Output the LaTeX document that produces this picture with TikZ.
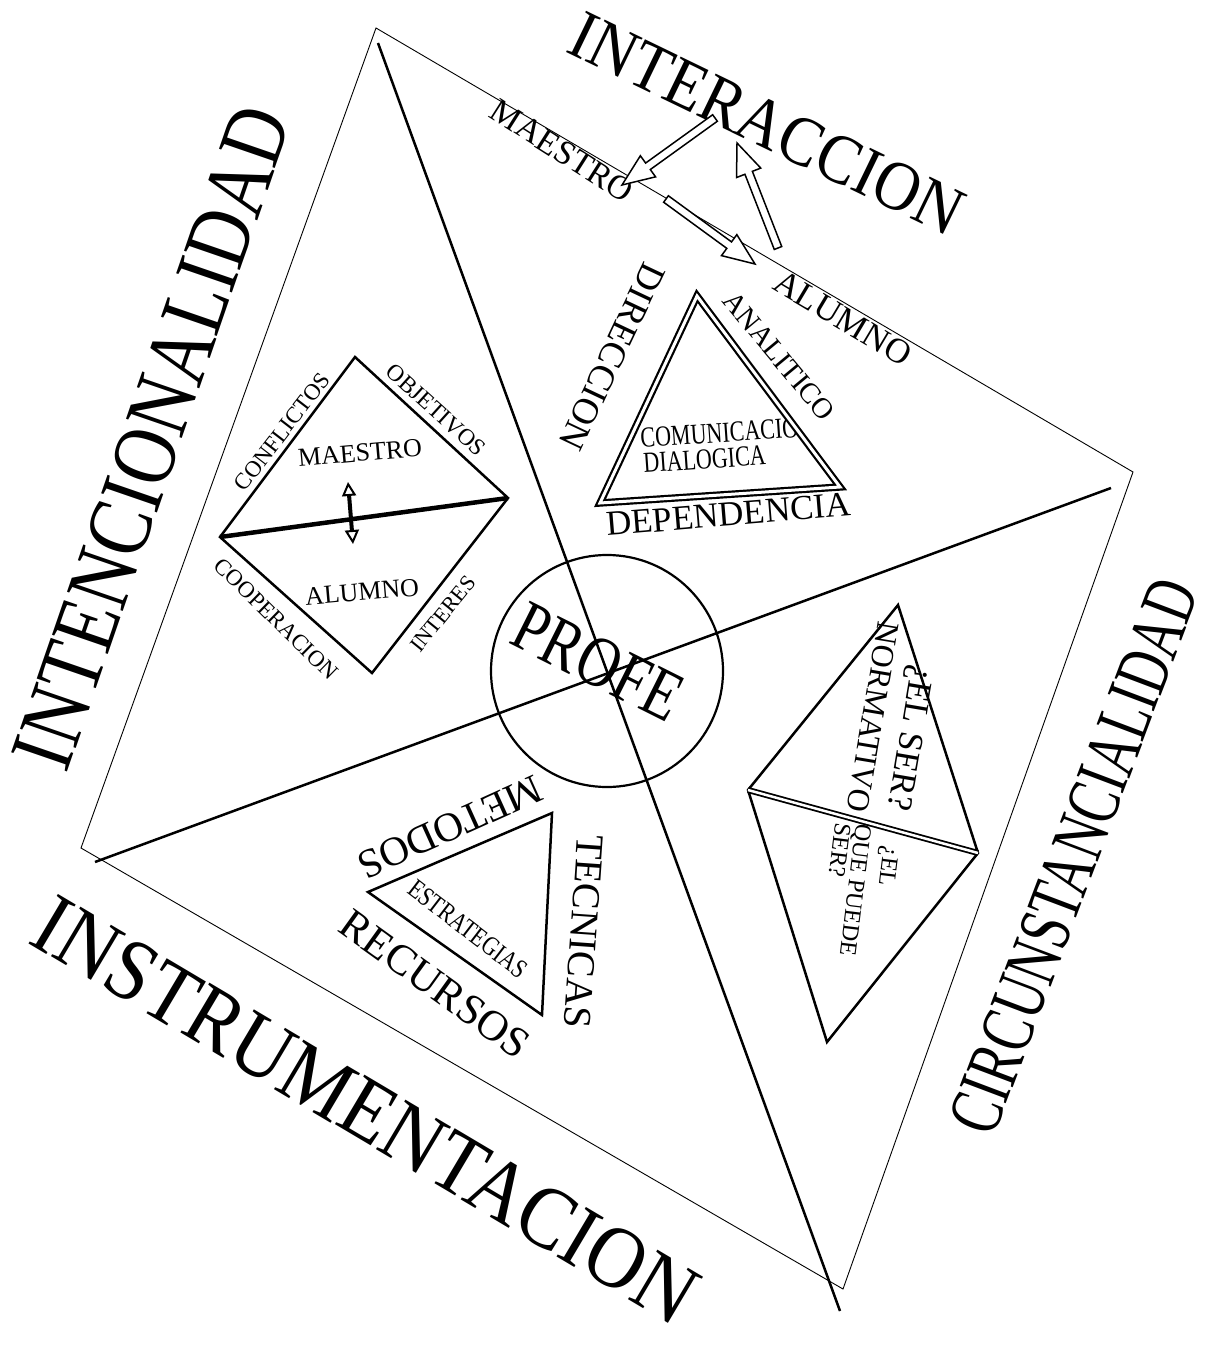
\documentclass[tikz,border=0pt]{standalone}
\usepackage{fontspec}
\setmainfont{Liberation Serif}
\usetikzlibrary{arrows.meta,calc}
\tikzset{
  thinedge/.style={line width=0.9pt, line join=miter},
  diag/.style={line width=2.5pt},
  shp/.style={line width=2.5pt, line join=miter},
  dbl/.style={double, double distance=3pt, line width=2.2pt, line join=miter},
  dblthin/.style={double, double distance=2.5pt, line width=1.8pt},
  lbl/.style={inner sep=0pt, font=\fontsize{#1}{#1}\selectfont},
  blk/.style={draw, line width=1.5pt, fill=white, line join=miter},
}
\newcommand\blockarrow[2]{%
  \coordinate (#1h) at ($(#2)!32pt!(#1)$);
  \draw[blk] ($(#1)!4pt!90:(#2)$) -- ($(#1h)!4pt!90:(#2)$) -- ($(#1h)!13pt!90:(#2)$) -- (#2)
   -- ($(#1h)!13pt!-90:(#2)$) -- ($(#1h)!4pt!-90:(#2)$) -- ($(#1)!4pt!-90:(#2)$) -- cycle;}
\begin{document}
\begin{tikzpicture}[x=1pt,y=-1pt]
\fill[white] (0,0) rectangle (1214,1351);
\useasboundingbox (0,0) rectangle (1214,1351);
% outer frame
\coordinate (T) at (376,28); \coordinate (R) at (1133,472);
\coordinate (B) at (843,1289); \coordinate (L) at (81,848);
\draw[thinedge] (T) -- (R) -- (B) -- (L) -- cycle;
\coordinate (d1a) at (378,43); \coordinate (d1b) at (840,1311);
\coordinate (d2a) at (95,862); \coordinate (d2b) at (1111,488);
\draw[diag] (d1a) -- (d1b);
\draw[diag] (d2a) -- (d2b);
% centre
\node[draw, circle, line width=2.2pt, minimum size=232pt, inner sep=0pt] (profecircle) at (607,671) {};
\node[lbl=72, rotate=-26.6] (profe) at (598,662) {\scalebox{0.8}[1]{PROFE}};
% big labels
\node[lbl=70, rotate=-25.8] (interaccion) at (767,124) {\scalebox{0.9}[1]{INTERACCION}};
\node[lbl=90, rotate=71] (intencion) at (152,437) {\scalebox{0.83}[1]{INTENCIONALIDAD}};
\node[lbl=88, rotate=-30.7] (instrum) at (366,1110) {\scalebox{0.9}[1]{INSTRUMENTACION}};
\node[lbl=75, rotate=69.3] (circun) at (1074,856) {\scalebox{0.7}[1]{CIRCUNSTANCIALIDAD}};
% interaction
\node[lbl=34, rotate=-32.5] (maestroTop) at (562,151) {MAESTRO};
\node[lbl=35, rotate=-30.8] (alumnoTop) at (843,318) {ALUMNO};
\coordinate (a1s) at (715,118); \coordinate (a1e) at (622,185);
\coordinate (a2s) at (666,199); \coordinate (a2e) at (755,264);
\coordinate (a3s) at (778,248); \coordinate (a3e) at (737,143);
\blockarrow{a1s}{a1e}
\blockarrow{a2s}{a2e}
\blockarrow{a3s}{a3e}
% upper right triangle
\node[lbl=37, rotate=-115.3] (direccion) at (612,357) {DIRECCION};
\node[lbl=29, rotate=-50.3] (analitico) at (779,356) {ANALITICO};
\node[lbl=35, rotate=4.7, anchor=base west] (dependencia) at (607,536) {DEPENDENCIA};
\begin{scope}
\clip (697,296) -- (600,503) -- (840,487) -- cycle;
\node[lbl=29, rotate=4, anchor=base west] (comun) at (641,448) {\scalebox{0.76}[1]{COMUNICACION}};
\node[lbl=29, rotate=4, anchor=base west] (dialog) at (644,473) {\scalebox{0.76}[1]{DIALOGICA}};
\end{scope}
\draw[dbl] (697,296) -- (600,503) -- (840,487) -- cycle;
% left diamond
\draw[shp] (355,357) -- (508,498) -- (372,673) -- (220,537) -- cycle;
\draw[line width=4.5pt] (220,537) -- (508,498);
\draw[line width=4pt, {Triangle[open, length=14pt, width=14pt, line width=2pt]}-{Triangle[open, length=14pt, width=14pt, line width=2pt]}] (353,544) -- (348,482);
\node[lbl=26, rotate=5] (dmaestro) at (360,453) {MAESTRO};
\node[lbl=26, rotate=5] (dalumno) at (362,592) {ALUMNO};
\node[lbl=23, rotate=52.4] (conflictos) at (282,432) {CONFLICTOS};
\node[lbl=23.5, rotate=-42.1] (objetivos) at (436,410) {OBJETIVOS};
\node[lbl=23, rotate=-44.4] (cooperacion) at (276,619) {COOPERACION};
\node[lbl=22, rotate=51] (interes) at (443,614) {INTERES};
% bottom triangle
\draw[shp] (552,813) -- (368,892) -- (542,1015) -- cycle;
\node[lbl=41, rotate=-155.7] (metodos) at (450,827) {METODOS};
\node[lbl=27, rotate=-37.5] (estrategias) at (468,929) {\scalebox{0.8}[1]{ESTRATEGIAS}};
\node[lbl=43, rotate=-35.7] (recursos) at (435,984) {RECURSOS};
\node[lbl=39.5, rotate=-94] (tecnicas) at (584,932) {TECNICAS};
% right diamond
\draw[shp] (898,605) -- (978,853) -- (827,1042) -- (748,790) -- cycle;
\draw[dblthin] (748,790) -- (978,853);
\node[lbl=35, rotate=-99.7] (elser) at (908,738) {¿EL SER?};
\node[lbl=32, rotate=-99.5] (normativo) at (873,717) {NORMATIVO};
\node[lbl=24, rotate=-97, anchor=west] (el2) at (889,846) {¿EL};
\node[lbl=24, rotate=-97, anchor=west] (quepuede) at (862,824) {QUE PUEDE};
\node[lbl=24, rotate=-97, anchor=west] (ser2) at (843,823) {SER?};
\end{tikzpicture}
\end{document}
